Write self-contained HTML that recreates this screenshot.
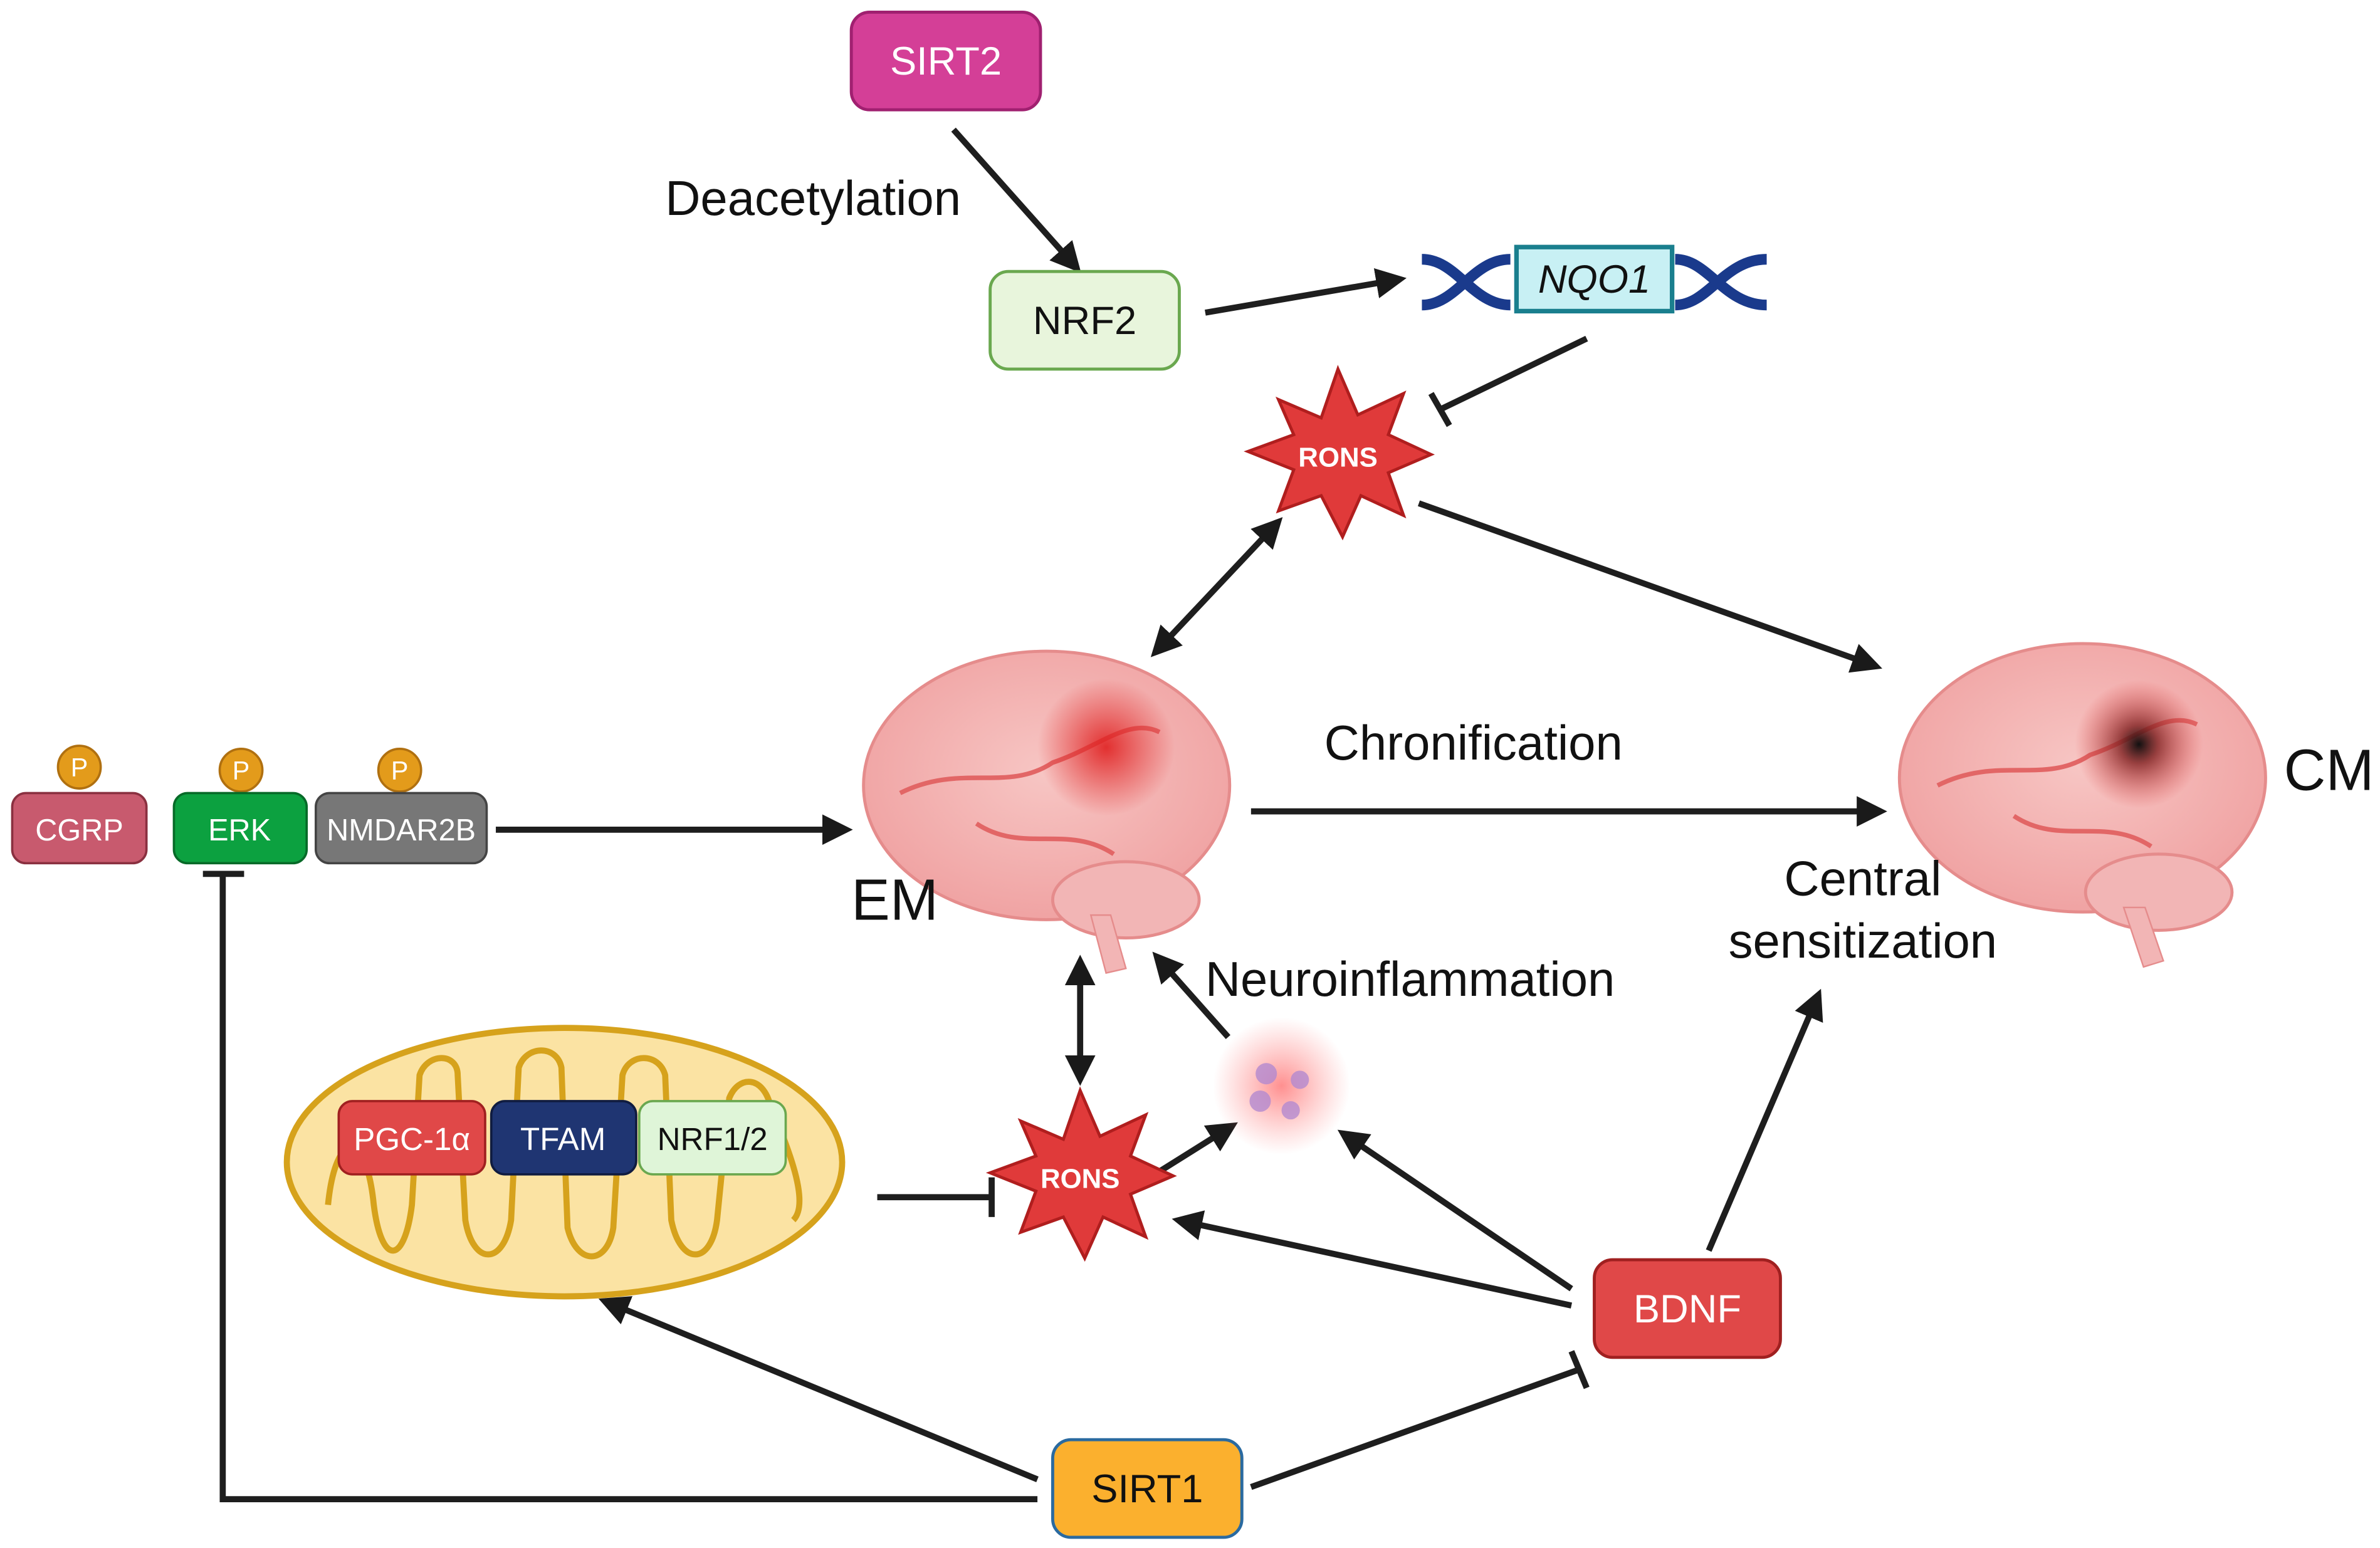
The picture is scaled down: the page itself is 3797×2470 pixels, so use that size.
<!DOCTYPE html>
<html><head><meta charset="utf-8"><style>
html,body{margin:0;padding:0;background:#fff;}
svg{display:block;}
text{font-family:"Liberation Sans",sans-serif;}
</style></head><body>
<svg width="3797" height="2470" viewBox="0 0 1560 1015" preserveAspectRatio="none" xmlns="http://www.w3.org/2000/svg">
<defs>
<marker id="ah" viewBox="0 0 10 10" refX="8" refY="5" markerWidth="5" markerHeight="5" orient="auto-start-reverse"><path d="M0,0 L10,5 L0,10 z" fill="#1a1a1a"/></marker>
<radialGradient id="brain" cx="50%" cy="45%" r="55%"><stop offset="0" stop-color="#f7c6c4"/><stop offset="1" stop-color="#f0a3a3"/></radialGradient>
<radialGradient id="hot"><stop offset="0" stop-color="#e02020" stop-opacity="0.9"/><stop offset="1" stop-color="#e02020" stop-opacity="0"/></radialGradient>
<radialGradient id="dark"><stop offset="0" stop-color="#111"/><stop offset="0.3" stop-color="#802020" stop-opacity="0.8"/><stop offset="1" stop-color="#e04040" stop-opacity="0"/></radialGradient>
<radialGradient id="glow"><stop offset="0" stop-color="#ff6060" stop-opacity="0.7"/><stop offset="1" stop-color="#ff8080" stop-opacity="0"/></radialGradient>
</defs>
<g stroke="#1e1e1e" stroke-width="4" fill="none">
<line x1="625" y1="85" x2="706" y2="176" marker-end="url(#ah)"/>
<line x1="790" y1="205" x2="918" y2="183" marker-end="url(#ah)"/>
<line x1="1040" y1="222" x2="945" y2="268"/>
<line x1="938" y1="258" x2="950" y2="279"/>
<line x1="930" y1="330" x2="1230" y2="437" marker-end="url(#ah)"/>
<line x1="838" y1="342" x2="757" y2="428" marker-start="url(#ah)" marker-end="url(#ah)"/>
<line x1="820" y1="532" x2="1233" y2="532" marker-end="url(#ah)"/>
<line x1="1120" y1="820" x2="1192" y2="652" marker-end="url(#ah)"/>
<line x1="325" y1="544" x2="555" y2="544" marker-end="url(#ah)"/>
<polyline points="680,983 146,983 146,573"/>
<line x1="133" y1="573" x2="160" y2="573"/>
<line x1="708" y1="630" x2="708" y2="708" marker-start="url(#ah)" marker-end="url(#ah)"/>
<line x1="805" y1="680" x2="758" y2="627" marker-end="url(#ah)"/>
<line x1="575" y1="785" x2="650" y2="785"/>
<line x1="650" y1="772" x2="650" y2="798"/>
<line x1="757" y1="770" x2="808" y2="738" marker-end="url(#ah)"/>
<line x1="1030" y1="856" x2="772" y2="800" marker-end="url(#ah)"/>
<line x1="1030" y1="845" x2="880" y2="743" marker-end="url(#ah)"/>
<line x1="680" y1="970" x2="396" y2="853" marker-end="url(#ah)"/>
<line x1="820" y1="975" x2="1035" y2="898"/>
<line x1="1030" y1="886" x2="1040" y2="910"/>
</g>
<!-- SIRT2 -->
<rect x="558" y="8" width="124" height="64" rx="12" fill="#d43f97" stroke="#a02070" stroke-width="2"/>
<text x="620" y="49" font-size="26" fill="#fff" text-anchor="middle">SIRT2</text>
<text x="436" y="141" font-size="32" fill="#111">Deacetylation</text>
<rect x="649" y="178" width="124" height="64" rx="12" fill="#e8f5dc" stroke="#6aa84f" stroke-width="2"/>
<text x="711" y="219" font-size="26" fill="#111" text-anchor="middle">NRF2</text>
<!-- DNA -->
<g fill="none" stroke="#1a3a8c" stroke-width="7">
<path d="M932,170 C955,170 965,200 990,200"/><path d="M932,200 C955,200 965,170 990,170"/>
<path d="M1098,200 C1120,200 1130,170 1158,170"/><path d="M1098,170 C1120,170 1130,200 1158,200"/>
</g>
<rect x="994" y="162" width="102" height="42" fill="#c8f0f4" stroke="#1a7f8e" stroke-width="3"/>
<text x="1045" y="192" font-size="26" font-style="italic" fill="#111" text-anchor="middle">NQO1</text>
<!-- RONS stars -->
<polygon points="877,242 890,272 920,258 910,285 938,298 910,310 920,338 892,325 880,352 866,325 838,335 848,308 818,296 848,285 838,262 866,274" fill="#e03a3a" stroke="#b01e1e" stroke-width="2"/>
<text x="877" y="306" font-size="18" font-weight="bold" fill="#fff" text-anchor="middle">RONS</text>
<polygon points="708,715 721,745 751,731 741,758 769,771 741,783 751,811 723,798 711,825 697,798 669,808 679,781 649,769 679,758 669,735 697,747" fill="#e03a3a" stroke="#b01e1e" stroke-width="2"/>
<text x="708" y="779" font-size="18" font-weight="bold" fill="#fff" text-anchor="middle">RONS</text>
<!-- EM brain -->
<ellipse cx="686" cy="515" rx="120" ry="88" fill="url(#brain)" stroke="#e58c8c" stroke-width="2"/>
<ellipse cx="738" cy="590" rx="48" ry="25" fill="#f2b5b5" stroke="#e58c8c" stroke-width="2"/>
<path d="M715,600 L725,638 L738,635 L728,600z" fill="#f2b5b5" stroke="#e58c8c"/>
<path d="M590,520 C630,500 660,520 690,500 C720,490 740,470 760,480 M640,540 C670,560 700,540 730,560" stroke="#e26666" stroke-width="3" fill="none"/>
<circle cx="725" cy="490" r="45" fill="url(#hot)"/>
<text x="558" y="603" font-size="38" fill="#111">EM</text>
<!-- CM brain -->
<ellipse cx="1365" cy="510" rx="120" ry="88" fill="url(#brain)" stroke="#e58c8c" stroke-width="2"/>
<ellipse cx="1415" cy="585" rx="48" ry="25" fill="#f2b5b5" stroke="#e58c8c" stroke-width="2"/>
<path d="M1392,595 L1405,634 L1418,630 L1406,595z" fill="#f2b5b5" stroke="#e58c8c"/>
<path d="M1270,515 C1310,495 1340,515 1370,495 C1400,485 1420,465 1440,475 M1320,535 C1350,555 1380,535 1410,555" stroke="#e26666" stroke-width="3" fill="none"/>
<circle cx="1402" cy="488" r="42" fill="url(#dark)"/>
<text x="1497" y="518" font-size="38" fill="#111">CM</text>
<text x="868" y="498" font-size="32" fill="#111">Chronification</text>
<text x="1221" y="587" font-size="32" fill="#111" text-anchor="middle">Central</text>
<text x="1221" y="628" font-size="32" fill="#111" text-anchor="middle">sensitization</text>
<text x="790" y="653" font-size="32" fill="#111">Neuroinflammation</text>
<!-- proteins -->
<g stroke="#b07010" stroke-width="1.5" fill="#e39b1b">
<circle cx="52" cy="503" r="14"/><circle cx="158" cy="505" r="14"/><circle cx="262" cy="505" r="14"/></g>
<g font-size="17" fill="#fff" text-anchor="middle"><text x="52" y="509">P</text><text x="158" y="511">P</text><text x="262" y="511">P</text></g>
<rect x="8" y="520" width="88" height="46" rx="9" fill="#c85a6e" stroke="#8a3040" stroke-width="1.5"/>
<rect x="114" y="520" width="87" height="46" rx="9" fill="#0ca140" stroke="#076a28" stroke-width="1.5"/>
<rect x="207" y="520" width="112" height="46" rx="9" fill="#777" stroke="#444" stroke-width="1.5"/>
<g font-size="20" fill="#fff" text-anchor="middle"><text x="52" y="551">CGRP</text><text x="157" y="551">ERK</text><text x="263" y="551">NMDAR2B</text></g>
<!-- inflammation -->
<circle cx="840" cy="712" r="45" fill="url(#glow)"/>
<g fill="#b48ad0" opacity="0.8"><circle cx="830" cy="704" r="7"/><circle cx="852" cy="708" r="6"/><circle cx="826" cy="722" r="7"/><circle cx="846" cy="728" r="6"/></g>
<!-- mitochondria -->
<ellipse cx="370" cy="762" rx="182" ry="88" fill="#fbe3a3" stroke="#d6a21c" stroke-width="4"/>
<path d="M215,790 C220,740 240,740 245,790 C250,830 265,830 270,790 L275,705 C280,690 300,690 300,705 L305,800 C310,830 330,830 335,800 L340,700 C345,685 365,685 368,700 L372,805 C378,830 398,830 402,805 L408,705 C412,690 432,690 436,705 L440,800 C446,830 466,830 470,800 L478,720 C484,705 500,705 505,725 C520,760 530,790 520,800" fill="none" stroke="#d6a21c" stroke-width="4"/>
<rect x="222" y="722" width="96" height="48" rx="9" fill="#e04848" stroke="#a02020" stroke-width="1.5"/>
<rect x="322" y="722" width="95" height="48" rx="9" fill="#1f3572" stroke="#101c40" stroke-width="1.5"/>
<rect x="419" y="722" width="96" height="48" rx="9" fill="#dff5d8" stroke="#6aa84f" stroke-width="1.5"/>
<text x="270" y="754" font-size="21" fill="#fff" text-anchor="middle">PGC-1α</text>
<text x="369" y="754" font-size="21" fill="#fff" text-anchor="middle">TFAM</text>
<text x="467" y="754" font-size="21" fill="#111" text-anchor="middle">NRF1/2</text>
<!-- BDNF / SIRT1 -->
<rect x="1045" y="826" width="122" height="64" rx="12" fill="#e04848" stroke="#a02020" stroke-width="2"/>
<text x="1106" y="867" font-size="26" fill="#fff" text-anchor="middle">BDNF</text>
<rect x="690" y="944" width="124" height="64" rx="12" fill="#fbb02e" stroke="#2a6aa0" stroke-width="2"/>
<text x="752" y="985" font-size="26" fill="#111" text-anchor="middle">SIRT1</text>
</svg>
</body></html>
